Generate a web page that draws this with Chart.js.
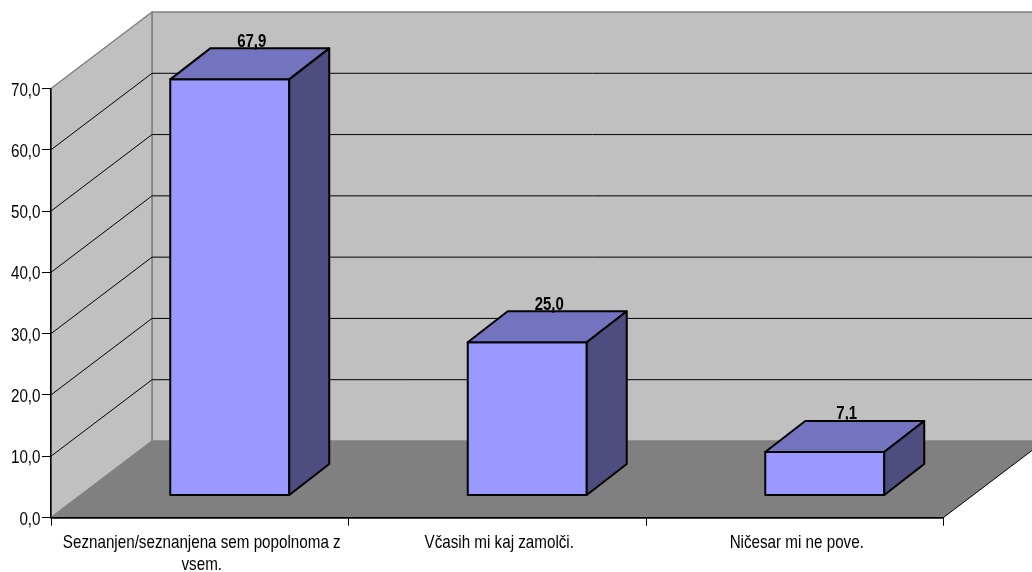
<!DOCTYPE html>
<html lang="en">
<head>
  <meta charset="UTF-8" />
  <title>Chart</title>
  <script src="https://cdn.jsdelivr.net/npm/chart.js"></script>
  <style>
    body { margin: 0; background: #fff; }
    canvas { display: block; }
  </style>
</head>
<body>
  <canvas id="chart" width="1032" height="572"></canvas>
  <script>
    const categories = [
      ['Seznanjen/seznanjena sem popolnoma z', 'vsem.'],
      'Včasih mi kaj zamolči.',
      'Ničesar mi ne pove.'
    ];
    const values = [67.9, 25.0, 7.1];
    const valueLabels = ['67,9', '25,0', '7,1'];
    const yTickLabels = ['0,0', '10,0', '20,0', '30,0', '40,0', '50,0', '60,0', '70,0'];

    const FONT = "'Liberation Sans', Arial, sans-serif";
    // 3d offsets in px: whole box depth, where the bars start, bar depth
    const WALL_DX = 101, WALL_DY = -76.5;
    const BAR_DX = 30, BAR_DY = -22;
    const SIDE_DX = 40, SIDE_DY = -31;
    // the original text is a bit taller than it is wide
    const STRETCH = 1.18;

    function poly(ctx, pts, fill, stroke, lw) {
      ctx.beginPath();
      pts.forEach((p, i) => i ? ctx.lineTo(p[0], p[1]) : ctx.moveTo(p[0], p[1]));
      ctx.closePath();
      ctx.fillStyle = fill;
      ctx.fill();
      if (stroke) {
        ctx.strokeStyle = stroke;
        ctx.lineWidth = lw;
        ctx.lineJoin = 'round';
        ctx.stroke();
      }
    }

    function tallText(ctx, str, x, y, font, align) {
      ctx.save();
      ctx.translate(x, y);
      ctx.scale(1, STRETCH);
      ctx.font = font;
      ctx.textAlign = align;
      ctx.textBaseline = 'alphabetic';
      ctx.fillStyle = '#000';
      ctx.fillText(str, 0, 0);
      ctx.restore();
    }

    const box3d = {
      id: 'box3d',
      beforeDatasetsDraw(chart) {
        const { ctx, chartArea: a, scales: { x, y } } = chart;
        const W = chart.width;
        const bx = a.left + WALL_DX;
        const y0 = y.getPixelForValue(0), yTop = y.getPixelForValue(70);

        ctx.save();
        // back wall, side wall, floor
        poly(ctx, [[bx, yTop + WALL_DY], [W + 2, yTop + WALL_DY], [W + 2, y0 + WALL_DY], [bx, y0 + WALL_DY]], '#c0c0c0', '#808080', 1.5);
        poly(ctx, [[a.left, yTop], [bx, yTop + WALL_DY], [bx, y0 + WALL_DY], [a.left, y0]], '#c0c0c0', '#808080', 1.5);
        poly(ctx, [[a.left, y0], [bx, y0 + WALL_DY], [a.right + WALL_DX, y0 + WALL_DY], [a.right, y0]], '#808080');

        // right edge of the floor
        ctx.strokeStyle = '#000';
        ctx.lineWidth = 1;
        ctx.beginPath();
        ctx.moveTo(a.right, y0);
        ctx.lineTo(a.right + WALL_DX, y0 + WALL_DY);
        ctx.stroke();

        // gridlines run along the side wall and then over the back wall
        y.ticks.forEach(t => {
          if (t.value === 0 || t.value === 70) return;
          const py = y.getPixelForValue(t.value);
          ctx.beginPath();
          ctx.moveTo(a.left, py);
          ctx.lineTo(bx, py + WALL_DY);
          ctx.lineTo(W + 2, py + WALL_DY);
          ctx.stroke();
        });
        ctx.restore();

        // the axes are redrawn on top of the walls
        x.draw(a);
        y.draw(a);

        // tick labels
        y.ticks.forEach((t, i) => {
          tallText(ctx, yTickLabels[i], 40.5, y.getPixelForTick(i) + 7, '15.2px ' + FONT, 'right');
        });
        categories.forEach((c, i) => {
          const lines = Array.isArray(c) ? c : [c];
          lines.forEach((line, j) => {
            tallText(ctx, line, x.getPixelForTick(i) + 2, y0 + 30.5 + j * 21.5, '15.2px ' + FONT, 'center');
          });
        });

        ctx.save();
        ctx.translate(BAR_DX, BAR_DY);
      },
      afterDatasetsDraw(chart) {
        const { ctx } = chart;
        chart.getDatasetMeta(0).data.forEach((bar, i) => {
          const l = bar.x - bar.width / 2, r = bar.x + bar.width / 2;
          const t = bar.y, b = bar.base;
          poly(ctx, [[l, t], [r, t], [r, b], [l, b]], 'transparent', '#000', 2);
          poly(ctx, [[l, t], [l + SIDE_DX, t + SIDE_DY], [r + SIDE_DX, t + SIDE_DY], [r, t]], '#7373bf', '#000', 2);
          poly(ctx, [[r, t], [r + SIDE_DX, t + SIDE_DY], [r + SIDE_DX, b + SIDE_DY], [r, b]], '#4d4d80', '#000', 2);
          tallText(ctx, valueLabels[i], bar.x + SIDE_DX / 2 + 2, t + SIDE_DY - 1.5, 'bold 15px ' + FONT, 'center');
        });
        ctx.restore();
      }
    };

    new Chart(document.getElementById('chart'), {
      type: 'bar',
      data: {
        labels: categories,
        datasets: [{
          data: values,
          backgroundColor: '#9999ff',
          borderWidth: 0,
          barPercentage: 0.4,
          categoryPercentage: 1,
          clip: false
        }]
      },
      options: {
        responsive: false,
        animation: false,
        layout: { padding: { top: 88.5, right: 88.5, left: 0, bottom: 0 } },
        plugins: { legend: { display: false }, tooltip: { enabled: false } },
        scales: {
          x: {
            afterFit: s => { s.height = 54.5; },
            border: { color: '#000', width: 1.5 },
            grid: { drawOnChartArea: false, color: '#000', tickLength: 8 },
            ticks: { display: false, autoSkip: false, maxRotation: 0 }
          },
          y: {
            min: 0,
            max: 70,
            afterFit: s => { s.width = 51; },
            border: { color: '#000', width: 1.5 },
            grid: { drawOnChartArea: false, color: '#000', tickLength: 9 },
            ticks: { display: false, stepSize: 10 }
          }
        }
      },
      plugins: [box3d]
    });
  </script>
</body>
</html>
